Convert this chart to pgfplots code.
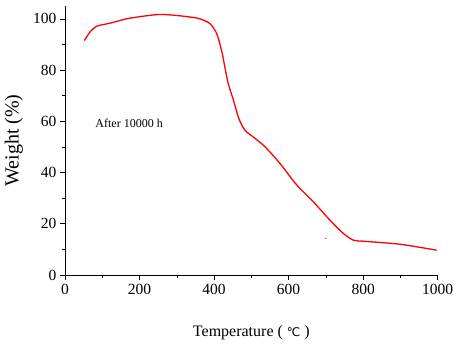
\documentclass[border=0pt]{standalone}
\usepackage{pgfplots}
\pgfplotsset{compat=1.18}
\usepackage{fontspec}
\setmainfont{Liberation Serif}
\newfontfamily\dejavu{DejaVu Sans}
\begin{document}
\begin{tikzpicture}
\begin{axis}[
  at={(0,0)}, anchor=south west,
  scale only axis,
  width=372.7pt, height=269pt,
  xmin=0, xmax=1000, ymin=0, ymax=105,
  axis lines*=left,
  xtick={0,200,...,1000}, ytick={0,20,...,100},
  minor xtick={100,300,...,900}, minor ytick={10,30,...,90},
  tick align=outside,
  major tick length=5pt, minor tick length=3pt,
  tick style={black, line width=0.6pt},
  axis line style={black, line width=0.8pt},
  /pgf/number format/assume math mode=true,
  ticklabel style={font=\rmfamily\fontsize{15.5}{18}\selectfont},
  xticklabel style={yshift=-1pt},
  x tick label style={/pgf/number format/1000 sep={}},
  xlabel={Temperature ( {\dejavu\fontsize{12}{14}\selectfont ℃} )},
  ylabel={Weight (\%)},
  xlabel style={font=\rmfamily\fontsize{16}{19}\selectfont, at={(axis description cs:0.5,-0.2156)}, anchor=center},
  ylabel style={font=\rmfamily\fontsize{20}{24}\selectfont, at={(axis description cs:-0.137,0.5)}, anchor=center},
  clip=false,
]
\addplot[red, line width=1.3pt, smooth, tension=0.5] coordinates {
(52,91.5) (67,94.8) (85,97.1) (121,98.3) (165,100.0) (209,101.0) (255,101.7)
(300,101.3) (340,100.6) (362,100.0) (389,98.1) (407,94.2) (420,87.7) (429,81.1)
(438,74.7) (452,68.2) (465,61.7) (477,57.8) (487.5,55.8) (505,53.9)
(537,50.0) (577,43.5) (622,35.1) (666,28.6) (711,21.4) (747,16.2) (774,13.6)
(800,13.2) (854,12.6) (899,12.0) (944,11.0) (997,9.7)
};
\addplot[only marks, mark=*, mark size=0.5pt, gray] coordinates {(700,14.3)};
\node[font=\rmfamily\fontsize{12}{14}\selectfont] at (axis cs:172,59.2) {After 10000 h};
\end{axis}
\pgfresetboundingbox
\path (-65pt,-73pt) rectangle (393pt,275pt);
\end{tikzpicture}
\end{document}
